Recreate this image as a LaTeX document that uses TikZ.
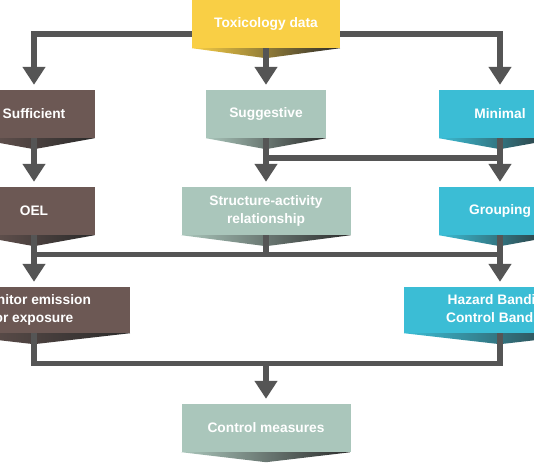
\documentclass[tikz,border=0pt]{standalone}
\usepackage{fontspec}
\setmainfont{Liberation Sans}
\usetikzlibrary{arrows.meta,calc}
\definecolor{tyellow}{HTML}{F9CF45}
\definecolor{tbrown}{HTML}{6C5854}
\definecolor{tsage}{HTML}{AAC6BB}
\definecolor{tcyan}{HTML}{3BBDD5}
\definecolor{tgray}{HTML}{555555}
\definecolor{tdark}{HTML}{2A2A2A}
\tikzset{
  box/.style={rectangle, inner sep=0pt, minimum height=48pt, text=white,
    font=\bfseries\fontsize{13.75}{17.5}\selectfont, align=center},
  conn/.style={draw=tgray, line width=5.5pt},
  arr/.style={conn, -{Triangle[width=22pt,length=18pt]}, shorten >=5pt},
}
\newcommand\mychev[3]{\shade[left color=#2, right color=tdark]
  (#1.south west) -- (#1.south east) -- ($(#1.south)+(0,#3)$) -- cycle;}
\begin{document}
\begin{tikzpicture}[x=1pt,y=-1pt]
\useasboundingbox (0,0) rectangle (534,462);
\clip (0,0) rectangle (534,462);
\fill[white] (0,0) rectangle (534,462);
% nodes
\node[box, fill=tyellow, minimum width=148pt] (tox) at (266,24) {Toxicology data};
\node[box, fill=tbrown, minimum width=121pt] (suf) at (34,114) {Sufficient};
\node[box, fill=tsage, minimum width=120pt] (sug) at (266,114) {Suggestive};
\node[box, fill=tcyan, minimum width=122pt] (min) at (500,114) {Minimal};
\node[box, fill=tbrown, minimum width=121pt] (oel) at (34,211) {OEL};
\node[box, fill=tsage, minimum width=169pt] (sar) at (266,211) {Structure-activity\\relationship};
\node[box, fill=tcyan, minimum width=122pt] (grp) at (500,211) {Grouping};
\node[box, fill=tbrown, minimum width=192pt, minimum height=46pt] (mon) at (34,310) {Monitor emission\\or exposure};
\node[box, fill=tcyan, minimum width=192pt, minimum height=46pt] (haz) at (500,310) {Hazard Banding\\Control Banding};
\node[box, fill=tsage, minimum width=169pt] (ctl) at (266,428) {Control measures};
% chevrons
\mychev{tox}{tyellow}{10}
\mychev{suf}{tbrown}{11}
\mychev{sug}{tsage}{11}
\mychev{min}{tcyan}{11}
\mychev{oel}{tbrown}{11}
\mychev{sar}{tsage}{11}
\mychev{grp}{tcyan}{11}
\mychev{mon}{tbrown}{11}
\mychev{haz}{tcyan}{11}
\mychev{ctl}{tsage}{10}
% helper levels
\coordinate (h1) at (0,158);
\coordinate (h2) at (0,254.5);
\coordinate (h3) at (0,363.5);
% connectors
\draw[arr] ([yshift=-10pt]tox.west) -| (suf);
\draw[arr] ([yshift=-10pt]tox.east) -| (min);
\draw[arr] (tox.south) -- (sug);
\draw[arr] (suf.south) -- (oel);
\draw[arr] (sug.south) -- (sar);
\draw[arr] (min.south) -- (grp);
\draw[conn] (sug.south |- h1) -- (min.south |- h1);
\draw[arr] (oel.south) -- (mon);
\draw[arr] (grp.south) -- (haz);
\draw[conn] (sar.south) -- (sar.south |- h2);
\draw[conn] (oel.south |- h2) -- (grp.south |- h2);
\draw[conn] (mon.south) |- (haz.south |- h3) -- (haz.south);
\draw[arr] (ctl.north |- h3) -- (ctl);
\end{tikzpicture}
\end{document}
